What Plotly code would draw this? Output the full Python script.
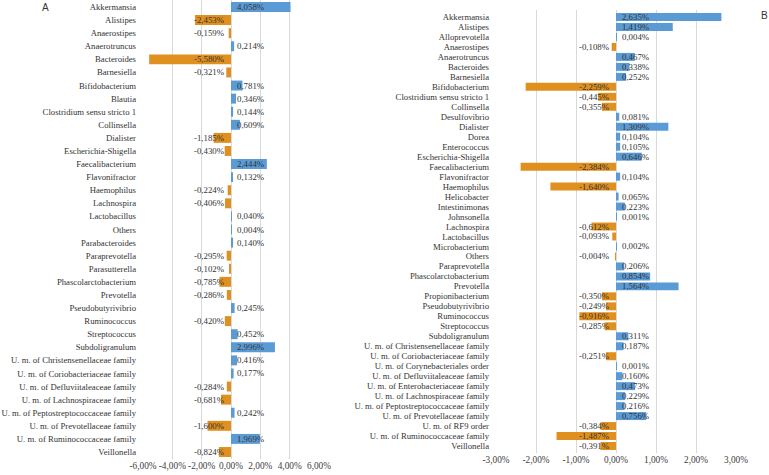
import plotly.graph_objects as go

# ---------------- Data ----------------
cats_a = ["Akkermansia", "Alistipes", "Anaerostipes", "Anaerotruncus", "Bacteroides",
          "Barnesiella", "Bifidobacterium", "Blautia", "Clostridium sensu stricto 1",
          "Collinsella", "Dialister", "Escherichia-Shigella", "Faecalibacterium",
          "Flavonifractor", "Haemophilus", "Lachnospira", "Lactobacillus", "Others",
          "Parabacteroides", "Paraprevotella", "Parasutterella", "Phascolarctobacterium",
          "Prevotella", "Pseudobutyrivibrio", "Ruminococcus", "Streptococcus",
          "Subdoligranulum", "U. m. of Christensenellaceae family",
          "U. m. of Coriobacteriaceae family", "U. m. of Defluviitaleaceae family",
          "U. m. of Lachnospiraceae family", "U. m. of Peptostreptococcaceae family",
          "U. m. of Prevotellaceae family", "U. m. of Ruminococcaceae family", "Veillonella"]
vals_a = [4.058, -2.453, -0.159, 0.214, -5.580, -0.321, 0.781, 0.346, 0.144, 0.609,
          -1.185, -0.430, 2.444, 0.132, -0.224, -0.406, 0.040, 0.004, 0.140, -0.295,
          -0.102, -0.785, -0.286, 0.245, -0.420, 0.452, 2.996, 0.416, 0.177, -0.284,
          -0.681, 0.242, -1.600, 1.969, -0.824]

cats_b = ["Akkermansia", "Alistipes", "Alloprevotella", "Anaerostipes", "Anaerotruncus",
          "Bacteroides", "Barnesiella", "Bifidobacterium", "Clostridium sensu stricto 1",
          "Collinsella", "Desulfovibrio", "Dialister", "Dorea", "Enterococcus",
          "Escherichia-Shigella", "Faecalibacterium", "Flavonifractor", "Haemophilus",
          "Helicobacter", "Intestinimonas", "Johnsonella", "Lachnospira", "Lactobacillus",
          "Microbacterium", "Others", "Paraprevotella", "Phascolarctobacterium",
          "Prevotella", "Propionibacterium", "Pseudobutyrivibrio", "Ruminococcus",
          "Streptococcus", "Subdoligranulum", "U. m. of Christensenellaceae family",
          "U. m. of Coriobacteriaceae family", "U. m. of Corynebacteriales order",
          "U. m. of Defluviitaleaceae family", "U. m. of Enterobacteriaceae family",
          "U. m. of Lachnospiraceae family", "U. m. of Peptostreptococcaceae family",
          "U. m. of Prevotellaceae family", "U. m. of RF9 order",
          "U. m. of Ruminococcaceae family", "Veillonella"]
vals_b = [2.635, 1.419, 0.004, -0.108, 0.467, 0.338, 0.252, -2.259, -0.445, -0.355,
          0.081, 1.309, 0.104, 0.105, 0.646, -2.384, 0.104, -1.640, 0.065, 0.223,
          0.001, -0.612, -0.093, 0.002, -0.004, 0.206, 0.854, 1.564, -0.350, -0.249,
          -0.916, -0.285, 0.311, 0.187, -0.251, 0.001, 0.160, 0.473, 0.229, 0.216,
          0.756, -0.384, -1.487, -0.391]

ticks_a = [-6, -4, -2, 0, 2, 4, 6]
ticks_b = [-3, -2, -1, 0, 1, 2, 3]

BLUE = "#5B9BD5"
ORANGE = "#E0901F"
FONT = "Liberation Serif"
TXT = "#333333"


def fmt(v):
    return ("%.3f%%" % v).replace(".", ",")


def tickfmt(v):
    return ("%.2f%%" % v).replace(".", ",")


fig = go.Figure()

for vals, cats, xa, ya, w in [(vals_a, cats_a, "x", "y", 0.76),
                              (vals_b, cats_b, "x2", "y2", 0.8)]:
    fig.add_trace(go.Bar(
        x=vals, y=cats, orientation="h", xaxis=xa, yaxis=ya, width=w,
        marker=dict(color=[BLUE if v >= 0 else ORANGE for v in vals], line=dict(width=0)),
        hoverinfo="x+y", showlegend=False,
    ))
    for v, c in zip(vals, cats):
        fig.add_annotation(
            x=0, y=c, xref=xa, yref=ya, text=fmt(v), showarrow=False,
            xanchor="left" if v >= 0 else "right", xshift=4 if v >= 0 else -4,
            font=dict(family=FONT, size=8.8, color=TXT),
        )

common_x = dict(showgrid=True, gridcolor="#D9D9D9", gridwidth=1, zeroline=False,
                showline=False, ticks="", tickangle=0, automargin=False,
                tickfont=dict(family=FONT, size=9.3, color="#404040"),
                fixedrange=True)
common_y = dict(showgrid=False, zeroline=False, showline=False, ticks="",
                tickfont=dict(family=FONT, size=8.7, color=TXT),
                autorange="reversed", ticklabelstandoff=6, fixedrange=True,
                tickmode="array", automargin=False)

fig.update_layout(
    width=769, height=475,
    margin=dict(l=0, r=0, t=0, b=0),
    paper_bgcolor="white", plot_bgcolor="white",
    xaxis=dict(domain=[143 / 769, 319 / 769], range=[-6, 6], tickvals=ticks_a,
               ticktext=[tickfmt(t) for t in ticks_a], anchor="y", **common_x),
    yaxis=dict(domain=[16 / 475, 1.0], categoryorder="array", categoryarray=cats_a,
               tickvals=cats_a, ticktext=cats_a, anchor="x", **common_y),
    xaxis2=dict(domain=[496 / 769, 736 / 769], range=[-3, 3], tickvals=ticks_b,
                ticktext=[tickfmt(t) for t in ticks_b], anchor="y2", **common_x),
    yaxis2=dict(domain=[22 / 475, 465 / 475], categoryorder="array", categoryarray=cats_b,
                tickvals=cats_b, ticktext=cats_b, anchor="x2", **common_y),
)

fig.add_annotation(x=45 / 769, y=1 - 7 / 475, xref="paper", yref="paper", text="A",
                   showarrow=False, xanchor="center", yanchor="middle",
                   font=dict(family="Liberation Sans", size=10, color=TXT))
fig.add_annotation(x=764 / 769, y=1 - 16 / 475, xref="paper", yref="paper", text="B",
                   showarrow=False, xanchor="center", yanchor="middle",
                   font=dict(family="Liberation Sans", size=10, color=TXT))

fig.write_html("out.html", config={"displayModeBar": False},
               post_script="document.body.style.margin='0';")
